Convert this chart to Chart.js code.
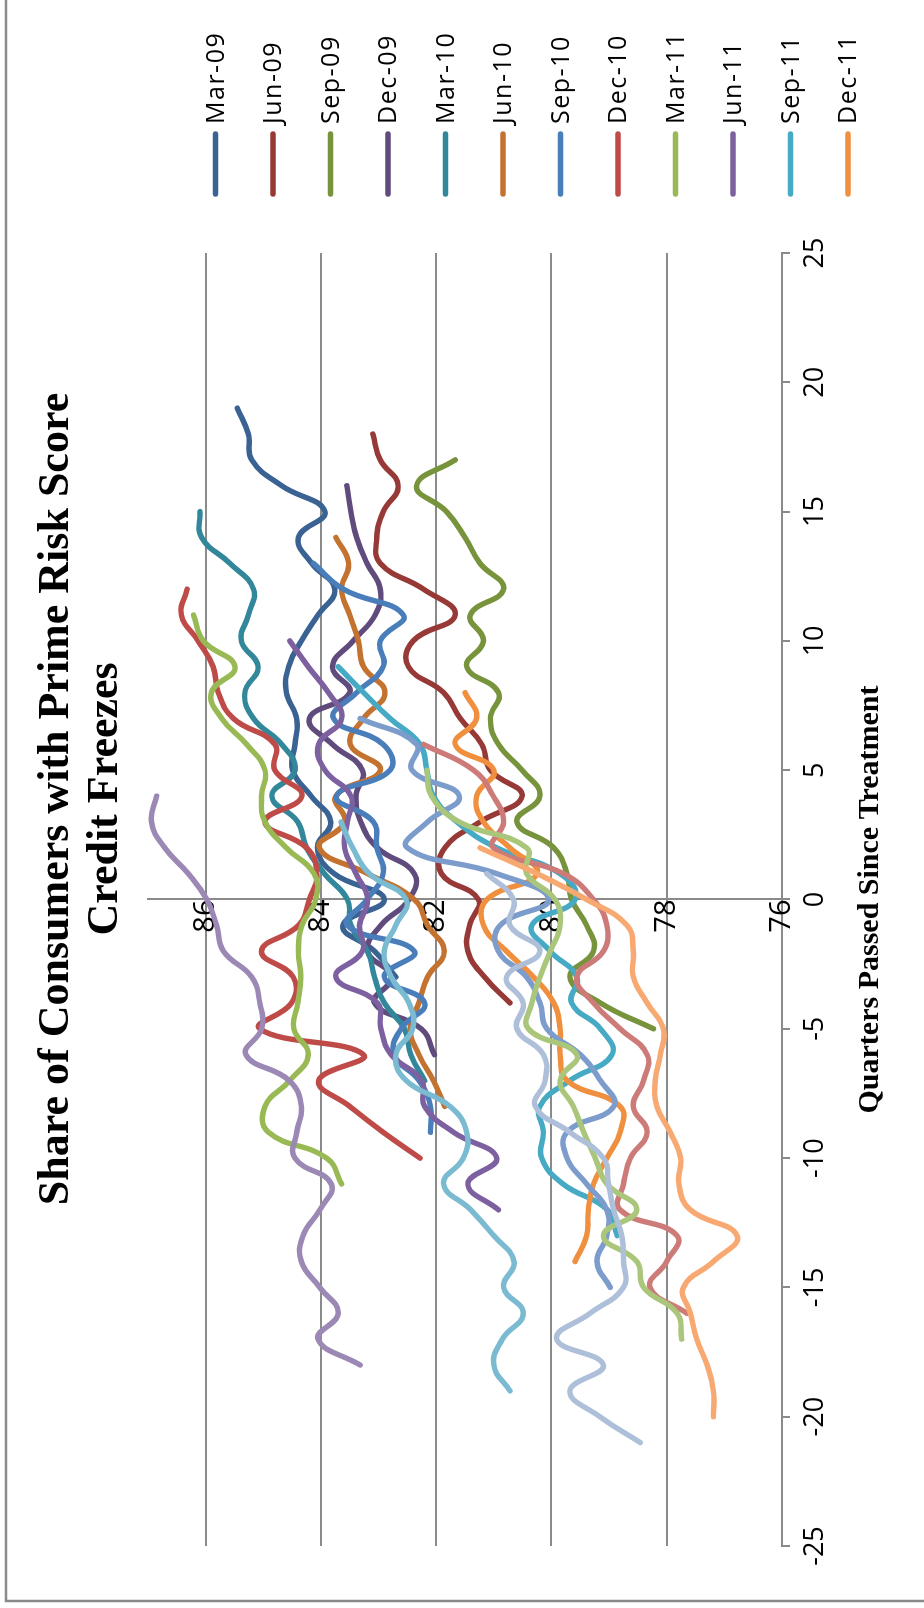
<!DOCTYPE html>
<html>
<head>
<meta charset="utf-8">
<script src="https://cdn.jsdelivr.net/npm/chart.js@4.4.1/dist/chart.umd.min.js"></script>
<style>
  html, body { margin: 0; padding: 0; background: #ffffff; overflow: hidden; }
  /* the chart is laid out landscape and turned a quarter turn counter-clockwise */
  #wrap {
    position: absolute; left: 0; top: 0;
    width: 1608px; height: 924px;
    transform-origin: 0 0;
    transform: translate(0, 1608px) rotate(-90deg);
  }
</style>
</head>
<body>
<div id="wrap"><canvas id="chart" width="1608" height="924"></canvas></div>
<script>
// ---- data -------------------------------------------------------------
const titleLines = ['Share of Consumers with Prime Risk Score', 'Credit Freezes'];
const xAxisTitle = 'Quarters Passed Since Treatment';

const seriesLabels = ['Mar-09', 'Jun-09', 'Sep-09', 'Dec-09', 'Mar-10', 'Jun-10',
  'Sep-10', 'Dec-10', 'Mar-11', 'Jun-11', 'Sep-11', 'Dec-11',
  'Mar-12', 'Jun-12', 'Sep-12', 'Dec-12', 'Mar-13', 'Jun-13', 'Sep-13'];

// first quarter (relative to treatment) covered by each series
const firstQuarter = [-3, -4, -5, -6, -7, -8, -9, -10, -11, -12, -13, -14,
  -15, -16, -17, -18, -19, -20, -21];

// share (%) by quarter, from the first quarter onward
const mar09 = [82.7, 83.07, 83.62, 82.9, 83.77, 84.06, 83.83, 84.17, 84.49, 84.45, 84.42, 84.6, 84.56, 84.34, 84.05, 83.76, 84.16, 84.39, 83.93, 84.68, 85.2, 85.26, 85.45];
const jun09 = [80.72, 81.16, 81.45, 81.42, 81.27, 81.91, 81.85, 81.24, 80.51, 81.06, 81.21, 81.58, 81.87, 82.48, 82.4, 81.67, 82.22, 82.97, 83.03, 82.92, 82.66, 82.97, 83.1];
const sep09 = [78.23, 79.15, 79.68, 79.27, 79.39, 79.65, 79.73, 79.96, 80.6, 80.2, 80.51, 80.92, 81.06, 80.92, 81.47, 81.18, 81.41, 80.83, 81.24, 81.5, 81.82, 82.34, 81.67];
const dec09 = [82.03, 82.26, 83.07, 82.78, 83.19, 82.96, 82.47, 82.38, 83.02, 83.31, 83.39, 83.28, 83.8, 84.2, 83.5, 83.8, 83.44, 83.06, 82.97, 83.2, 83.38, 83.48, 83.55];
const mar10 = [82.2, 82.44, 82.55, 82.9, 83.07, 83.19, 83.48, 83.54, 83.94, 84.25, 84.4, 84.85, 84.45, 84.68, 85.17, 85.32, 85.09, 85.38, 85.26, 85.17, 85.58, 86.07, 86.1];
const jun10 = [81.85, 82.05, 82.3, 82.45, 82.3, 82.15, 81.86, 82.15, 82.38, 83.19, 84.03, 83.59, 83.74, 82.97, 83.49, 83.26, 82.89, 83.26, 83.35, 83.5, 83.64, 83.52, 83.74];
const sep10 = [82.1, 82.1, 82.3, 82.73, 82.61, 82.2, 82.9, 82.38, 83.54, 83.2, 82.92, 83.03, 83.09, 83.73, 82.8, 82.92, 83.78, 83.38, 82.92, 82.97, 82.57, 83.61, 84.13];
const dec10 = [82.28, 82.92, 83.5, 84.04, 83.26, 85.06, 84.51, 84.48, 85.03, 84.39, 84.2, 84.07, 84.25, 84.97, 84.33, 84.8, 84.8, 85.52, 85.78, 85.87, 86.13, 86.42, 86.32];
const mar11 = [83.64, 83.9, 84.91, 84.97, 84.54, 84.22, 84.47, 84.4, 84.35, 84.39, 84.33, 84.09, 84.12, 84.6, 84.97, 85.03, 84.97, 85.29, 85.72, 85.9, 85.49, 86.04, 86.21];
const jun11 = [80.92, 81.45, 80.95, 81.7, 82.2, 82.25, 82.78, 82.96, 83.02, 83.74, 83.28, 83.33, 83.19, 83.39, 83.59, 83.54, 83.48, 83.93, 84.04, 83.64, 83.87, 84.22, 84.54];
const sep11 = [78.86, 79.03, 79.8, 80.17, 80.14, 80.2, 79.68, 78.95, 79.15, 79.65, 79.56, 80.02, 80.34, 79.59, 79.85, 80.95, 81.64, 82.05, 82.16, 82.28, 82.8, 83.26, 83.7];
const dec11 = [79.59, 79.39, 79.36, 79.27, 79.04, 78.81, 78.81, 79.73, 79.85, 79.85, 79.96, 80.31, 80.78, 81.18, 81.12, 80.25, 80.72, 81.18, 81.3, 81.0, 81.67, 81.3, 81.5];
const mar12 = [78.98, 79.21, 79.04, 79.04, 79.39, 79.73, 79.73, 78.92, 79.15, 79.5, 80.08, 80.2, 80.43, 80.92, 80.89, 80.05, 80.95, 82.5, 82.15, 81.6, 82.42, 82.34, 83.32];
const jun12 = [77.65, 78.29, 78.0, 77.82, 78.81, 78.75, 78.63, 78.34, 78.58, 78.4, 78.34, 78.81, 79.27, 79.56, 79.1, 79.04, 79.27, 79.79, 81.01, 80.83, 81.01, 81.35, 82.22];
const sep12 = [77.74, 77.82, 78.4, 78.52, 79.1, 78.52, 79.04, 79.24, 79.44, 79.62, 79.85, 79.56, 80.4, 80.34, 80.2, 80.02, 79.85, 79.94, 80.43, 80.43, 81.6, 82.08, 82.16];
const dec12 = [83.32, 84.05, 83.7, 84.02, 84.34, 84.31, 84.02, 83.82, 84.45, 84.42, 84.34, 84.55, 85.3, 85.03, 85.06, 85.2, 85.69, 85.81, 85.98, 86.3, 86.71, 86.94, 86.85];
const mar13 = [80.72, 81.0, 80.85, 80.49, 80.83, 80.65, 81.0, 81.4, 81.87, 81.53, 81.47, 81.76, 82.52, 82.7, 82.41, 82.47, 82.78, 82.9, 82.7, 82.52, 83.16, 83.45, 83.65];
const jun13 = [77.19, 77.19, 77.3, 77.48, 77.59, 77.71, 77.19, 76.78, 77.59, 77.79, 77.76, 77.94, 78.17, 78.2, 78.11, 78.06, 78.34, 78.58, 78.58, 78.69, 79.39, 80.25, 81.24];
const sep13 = [78.46, 79.16, 79.68, 79.1, 79.91, 79.33, 78.75, 78.75, 78.78, 78.92, 79.01, 79.1, 79.68, 80.28, 80.11, 80.14, 80.6, 80.49, 80.78, 80.2, 80.72, 80.66, 81.12];

const seriesValues = [mar09, jun09, sep09, dec09, mar10, jun10, sep10, dec10, mar11,
  jun11, sep11, dec11, mar12, jun12, sep12, dec12, mar13, jun13, sep13];

const xTicks = [-25, -20, -15, -10, -5, 0, 5, 10, 15, 20, 25];
const yTicks = [76, 78, 80, 82, 84, 86];
const legendCount = 12;   // the legend lists the first twelve series

// ---- styling ----------------------------------------------------------
const seriesColors = ['#3a6292', '#973a37', '#77933c', '#604b7d', '#33879a', '#c4722f',
  '#4a7ebb', '#be4b48', '#98b954', '#7d60a0', '#46aac5', '#f0903f',
  '#7c9ccc', '#cd7b79', '#aac67b', '#9b88b4', '#7bbbd1', '#f8a971', '#aebfda'];
const axisGray = '#8a8a8a';
const lineWidth = 5.4;
const sansFamily = '"Open Sans", "DejaVu Sans", sans-serif';
const serifFamily = '"Liberation Serif", "Times New Roman", serif';

Chart.defaults.font.family = sansFamily;
Chart.defaults.color = '#000000';

const datasets = seriesValues.map((vals, i) => ({
  label: seriesLabels[i],
  data: vals.map((v, k) => ({ x: firstQuarter[i] + k, y: v })),
  borderColor: seriesColors[i],
  backgroundColor: seriesColors[i],
  borderWidth: lineWidth,
  borderCapStyle: 'round',
  borderJoinStyle: 'round',
  pointRadius: 0,
  tension: 0.45,
  fill: false,
  order: seriesValues.length - i   // later series are painted on top
}));

// title, legend and outer frame
const decor = {
  id: 'decor',
  beforeInit(chart) { chart.ctx.letterSpacing = '1.5px'; },
  afterDraw(chart) {
    const ctx = chart.ctx;
    ctx.save();
    ctx.letterSpacing = '0px';
    ctx.strokeStyle = axisGray;
    ctx.lineWidth = 2.5;
    ctx.beginPath();
    ctx.moveTo(7, 924); ctx.lineTo(7, 6); ctx.lineTo(1608, 6);
    ctx.stroke();

    ctx.fillStyle = '#000000';
    ctx.textAlign = 'center';
    ctx.textBaseline = 'middle';
    ctx.font = 'bold 44px ' + serifFamily;
    titleLines.forEach((t, i) => ctx.fillText(t, 809, 57 + i * 49));

    ctx.textAlign = 'left';
    ctx.font = '25px ' + sansFamily;
    ctx.letterSpacing = '1.5px';
    ctx.lineCap = 'round';
    ctx.lineWidth = lineWidth;
    chart.data.datasets.slice(0, legendCount).forEach((ds, i) => {
      const y = 215.5 + i * 57.5;
      ctx.strokeStyle = ds.borderColor;
      ctx.beginPath(); ctx.moveTo(1414, y); ctx.lineTo(1474, y); ctx.stroke();
      ctx.fillText(ds.label, 1484, y + 1);
    });
    ctx.restore();
  }
};

new Chart(document.getElementById('chart'), {
  type: 'line',
  data: { datasets },
  plugins: [decor],
  options: {
    responsive: false,
    animation: false,
    devicePixelRatio: 1,
    layout: { padding: { left: 62, right: 253, top: 148, bottom: 0 } },
    plugins: { legend: { display: false }, tooltip: { enabled: false }, title: { display: false } },
    scales: {
      x: {
        type: 'linear',
        position: 'bottom',
        min: -25, max: 25,
        afterBuildTicks: (s) => { s.ticks = xTicks.map(v => ({ value: v })); },
        afterFit: (s) => { s.height = 142; },
        grid: { drawOnChartArea: false, drawTicks: true, tickLength: 8, color: axisGray, lineWidth: 2 },
        border: { display: true, color: axisGray, width: 2 },
        ticks: { font: { size: 27 }, padding: 9, maxRotation: 0, autoSkip: false },
        title: {
          display: true, text: xAxisTitle,
          font: { family: serifFamily, size: 30, weight: 'bold' },
          padding: { top: 0, bottom: 36 }
        }
      },
      y: {
        type: 'linear',
        position: { x: 0 },
        min: 76, max: 87,
        afterBuildTicks: (s) => { s.ticks = yTicks.map(v => ({ value: v })); },
        grid: { drawTicks: false, color: axisGray, lineWidth: 2 },
        border: { display: true, color: axisGray, width: 2 },
        ticks: { font: { size: 29 }, padding: 30 }
      }
    }
  }
});
</script>
</body>
</html>
